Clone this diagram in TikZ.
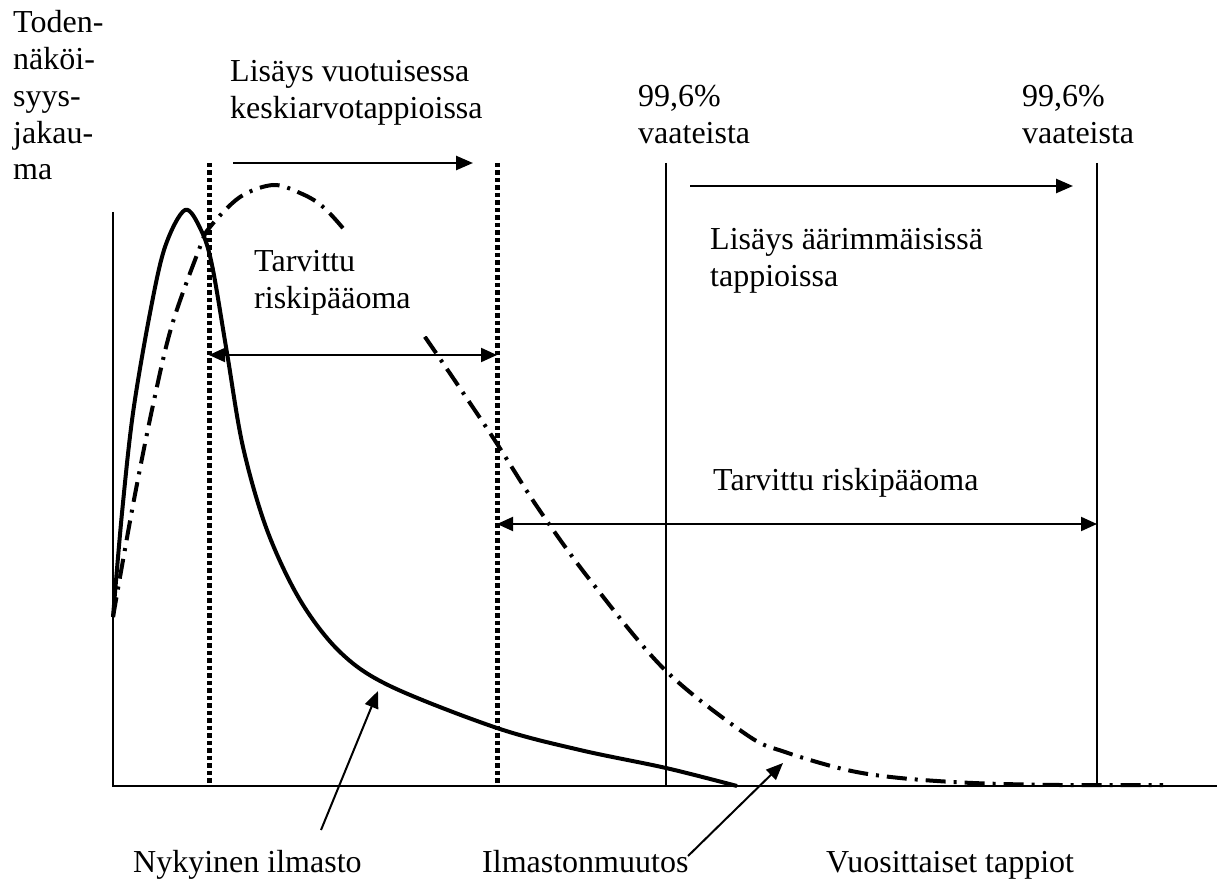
\documentclass[tikz,border=0pt]{standalone}
\usepackage{fontspec}
\setmainfont{Liberation Serif}
\usetikzlibrary{arrows.meta}
\begin{document}
\begin{tikzpicture}[x=1pt,y=-1pt,
  % multi-line labels are anchored on the baseline of their last line
  lbl/.style={font=\fontsize{32}{36.8}\selectfont, inner sep=0pt, align=left, anchor=base west},
  axisline/.style={line width=2pt},
  limitline/.style={line width=2pt},
  dotline/.style={line width=5pt, dash pattern=on 4.5pt off 3pt},
  tip/.style={-{Triangle[length=17pt,width=14pt]}},
  shiftarrow/.style={line width=2.5pt, tip},
  spanarrow/.style={line width=2pt, {Triangle[length=16pt,width=14pt]}-{Triangle[length=16pt,width=14pt]}},
  pointer/.style={line width=2pt, tip},
  present/.style={line width=4pt, line join=round},
  future/.style={line width=4pt, dash pattern=on 20pt off 8pt on 3pt off 8pt},
]
\useasboundingbox (0,0) rectangle (1217,882);

% axes
\coordinate (O) at (113,786);
\coordinate (ytop) at (113,212);
\coordinate (xend) at (1217,786);
\draw[axisline] (ytop) -- (O) -- (xend);

% mean-loss markers (dotted) and 99.6% limits (thin)
\coordinate (m1t) at (209,163);  \coordinate (m1b) at (209,786);
\coordinate (m2t) at (497,163);  \coordinate (m2b) at (497,786);
\coordinate (q1t) at (666,163);  \coordinate (q1b) at (666,786);
\coordinate (q2t) at (1097,163); \coordinate (q2b) at (1097,786);
\draw[dotline] (m1t) -- (m1b);
\draw[dotline] (m2t) -- (m2b);
\draw[limitline] (q1t) -- (q1b);
\draw[limitline] (q2t) -- (q2b);

% present climate: loss distribution
\draw[present] plot[smooth, tension=0.55] coordinates {
  (113,617) (122,513) (133,413) (150,313) (165,247) (185,210) (201,230)
  (212,265) (227,353) (243,447) (267,530) (300,600) (340,652) (390,686)
  (497,728) (580,750) (666,768) (737,786)};

% climate change: shifted distribution
\draw[future] plot[smooth, tension=0.55] coordinates {
  (113,617) (133,505) (153,405) (172,325) (200,247) (210,227) (240,197)
  (273,185) (300,193) (322,206) (347,233) (385,282) (425,337)
  (490,433) (538,508) (590,580) (665,670) (747,735)
  (785,752) (847,770) (900,778) (973,783) (1060,785) (1163,785)};

% shift arrows
\coordinate (s1a) at (233,163); \coordinate (s1b) at (473,163);
\coordinate (s2a) at (690,186); \coordinate (s2b) at (1073,186);
\draw[shiftarrow] (s1a) -- (s1b);
\draw[shiftarrow] (s2a) -- (s2b);

% required capital spans
\coordinate (c1a) at (209,355);  \coordinate (c1b) at (497,355);
\coordinate (c2a) at (497,524);  \coordinate (c2b) at (1097,524);
\draw[spanarrow] (c1a) -- (c1b);
\draw[spanarrow] (c2a) -- (c2b);

% labels
\node[lbl] (ylab) at (13,180) {Toden-\\näköi-\\syys-\\jakau-\\ma};
\node[lbl] (shift1) at (230,118.8) {Lisäys vuotuisessa\\keskiarvotappioissa};
\node[lbl] (lim1) at (638,143.8) {99,6\%\\vaateista};
\node[lbl] (lim2) at (1022,143.8) {99,6\%\\vaateista};
\node[lbl] (shift2) at (710,286.8) {Lisäys äärimmäisissä\\tappioissa};
\node[lbl, fill=white, inner xsep=18pt, inner ysep=20pt] (cap1) at (236,308.8) {Tarvittu\\riskipääoma};
\node[lbl] (cap2) at (713,490) {Tarvittu riskipääoma};
\node[lbl] (now) at (133,872) {Nykyinen ilmasto};
\node[lbl] (cc) at (482,872) {Ilmastonmuutos};
\node[lbl] (xlab) at (826,872) {Vuosittaiset tappiot};

% pointers from labels to curves
\coordinate (p1tail) at (321,830); \coordinate (p1tip) at (378,691);
\coordinate (p2tail) at (688,856); \coordinate (p2tip) at (783,763);
\draw[pointer] (p1tail) -- (p1tip);
\draw[pointer] (p2tail) -- (p2tip);
\end{tikzpicture}
\end{document}
